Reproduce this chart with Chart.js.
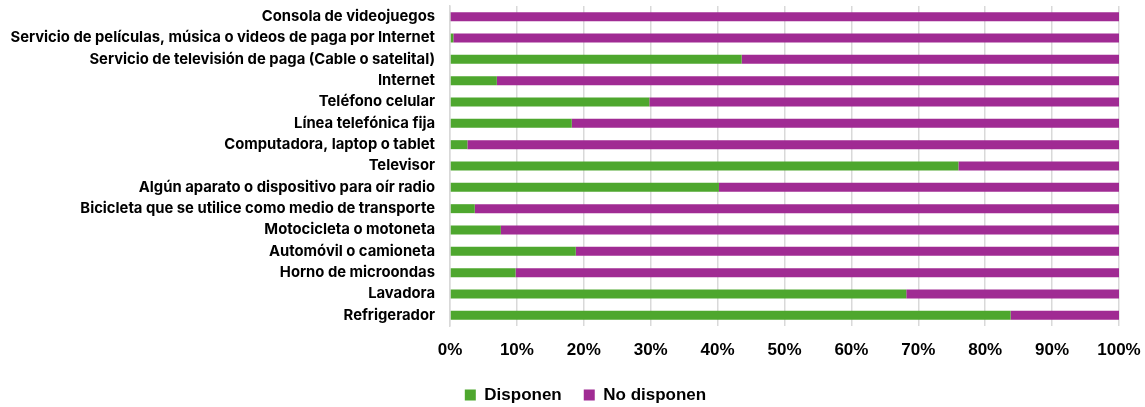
<!DOCTYPE html>
<html>
<head>
<meta charset="utf-8">
<script src="https://cdn.jsdelivr.net/npm/chart.js@4/dist/chart.umd.min.js"></script>
<style>
  html, body { margin: 0; padding: 0; background: #fff; }
  #wrap { width: 1145px; height: 407px; }
</style>
</head>
<body>
<div id="wrap"><canvas id="bienes"></canvas></div>
<script>
const categories = [
  'Consola de videojuegos',
  'Servicio de películas, música o videos de paga por Internet',
  'Servicio de televisión de paga (Cable o satelital)',
  'Internet',
  'Teléfono celular',
  'Línea telefónica fija',
  'Computadora, laptop o tablet',
  'Televisor',
  'Algún aparato o dispositivo para oír radio',
  'Bicicleta que se utilice como medio de transporte',
  'Motocicleta o motoneta',
  'Automóvil o camioneta',
  'Horno de microondas',
  'Lavadora',
  'Refrigerador'
];

// porcentaje de viviendas
const disponen   = [0.1, 0.5, 43.6, 7.0, 29.8, 18.2, 2.6, 76.0, 40.2, 3.7, 7.6, 18.8, 9.8, 68.2, 83.8];
const noDisponen = [99.9, 99.5, 56.4, 93.0, 70.2, 81.8, 97.4, 24.0, 59.8, 96.3, 92.4, 81.2, 90.2, 31.8, 16.2];

const xTicks = [0, 10, 20, 30, 40, 50, 60, 70, 80, 90, 100];

const gridGrey = '#d9d9d9';

// mueve la leyenda un poco a la derecha
const legendShift = {
  id: 'legendShift',
  afterLayout(chart) {
    chart.legend.left += 26;
    chart.legend.right += 26;
  }
};

new Chart(document.getElementById('bienes'), {
  type: 'bar',
  data: {
    labels: categories,
    datasets: [
      {
        label: 'Disponen',
        data: disponen,
        backgroundColor: '#4ea72e',
        categoryPercentage: 1,
        barPercentage: 0.42
      },
      {
        label: 'No disponen',
        data: noDisponen,
        backgroundColor: '#a02b93',
        categoryPercentage: 1,
        barPercentage: 0.42
      }
    ]
  },
  options: {
    indexAxis: 'y',
    responsive: true,
    maintainAspectRatio: false,
    animation: false,
    layout: {
      padding: { top: 6, right: 26, bottom: -6.5, left: 0 }
    },
    scales: {
      x: {
        stacked: true,
        min: 0,
        max: 100,
        afterBuildTicks: (scale) => {
          scale.ticks = xTicks.map(v => ({ value: v }));
        },
        afterFit: (scale) => {
          scale.height = 38.5;
          scale.paddingLeft = 0;
          scale.paddingRight = 0;
        },
        grid: {
          color: gridGrey,
          lineWidth: 1.5,
          drawTicks: false
        },
        border: { display: false },
        ticks: {
          padding: 14,
          color: '#000',
          font: { family: 'Liberation Sans', size: 17, weight: 'bold' },
          callback: (v) => v + '%'
        }
      },
      y: {
        stacked: true,
        afterFit: (scale) => {
          scale.width = 450;
          scale.paddingTop = 0;
          scale.paddingBottom = 0;
        },
        grid: { display: false, drawTicks: false },
        border: { color: gridGrey, width: 1.5 },
        ticks: {
          padding: 15,
          autoSkip: false,
          color: '#000',
          font: { family: 'Inter', size: 14.8, weight: 'bold' }
        }
      }
    },
    plugins: {
      legend: {
        position: 'bottom',
        labels: {
          color: '#000',
          boxWidth: 11,
          boxHeight: 11,
          padding: 22,
          font: { family: 'Liberation Sans', size: 17, weight: 'bold' }
        }
      },
      tooltip: { enabled: false }
    }
  },
  plugins: [legendShift]
});
</script>
</body>
</html>
